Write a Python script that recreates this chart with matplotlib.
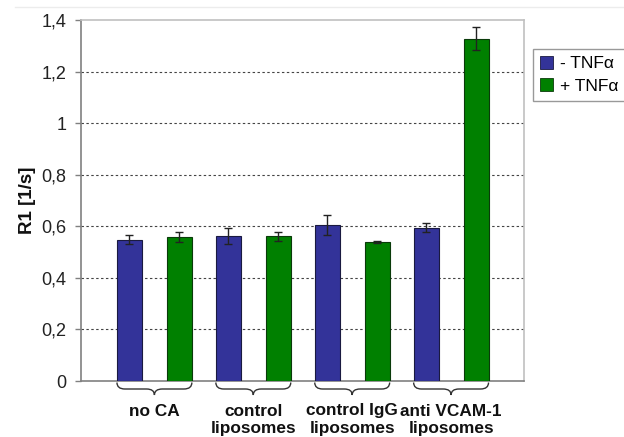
import matplotlib
matplotlib.use("Agg")
import matplotlib.pyplot as plt
from matplotlib.path import Path
from matplotlib.patches import PathPatch, Patch
from matplotlib.lines import Line2D
import numpy as np

categories = [("no CA", ""), ("control", "liposomes"), ("control IgG", "liposomes"), ("anti VCAM-1", "liposomes")]
series_names = ["- TNFα", "+ TNFα"]
minus_vals = [0.548, 0.564, 0.605, 0.594]
minus_err = [0.017, 0.031, 0.040, 0.017]
plus_vals = [0.559, 0.561, 0.539, 1.327]
plus_err = [0.019, 0.017, 0.003, 0.044]
yticks = [0, 0.2, 0.4, 0.6, 0.8, 1.0, 1.2, 1.4]
ytick_labels = ["0", "0,2", "0,4", "0,6", "0,8", "1", "1,2", "1,4"]

plt.rcParams['font.family'] = ['Liberation Sans', 'DejaVu Sans']

W, H = 624, 437
fig = plt.figure(figsize=(W / 100, H / 100), dpi=100)
ax = fig.add_axes([81 / W, 1 - 381 / H, (524 - 81) / W, (381 - 20) / H])

blue = "#333399"
green = "#008000"
x = np.arange(len(categories))
bw = 0.2525
off = 0.2525
ax.bar(x - off, minus_vals, bw, color=blue, edgecolor="#1a1a40", linewidth=0.8, zorder=3)
ax.bar(x + off, plus_vals, bw, color=green, edgecolor="#0a3a0a", linewidth=0.8, zorder=3)
ax.errorbar(x - off, minus_vals, yerr=minus_err, fmt="none", ecolor="#222222", elinewidth=1, capsize=3, capthick=1, zorder=4)
ax.errorbar(x + off, plus_vals, yerr=plus_err, fmt="none", ecolor="#222222", elinewidth=1, capsize=3, capthick=1, zorder=4)

ax.set_xlim(-73.5 / 99, 3 + 73 / 99)
ax.set_ylim(0, 1.4)
ax.set_yticks(yticks)
ax.set_yticklabels(ytick_labels, fontsize=13, color="#222222")
ax.tick_params(axis="y", length=4, width=1, color="#808080", pad=6.5, direction="out")
ax.set_xticks([])
for yv in yticks[1:-1]:
    ax.axhline(yv, color="#444444", linestyle=(0, (2.2, 2.2)), linewidth=0.8, zorder=1)

ax.spines["left"].set_color("#808080")
ax.spines["left"].set_linewidth(1.2)
ax.spines["bottom"].set_color("#808080")
ax.spines["bottom"].set_linewidth(1.2)
ax.spines["top"].set_color("#c0c0c0")
ax.spines["right"].set_color("#c0c0c0")
ax.spines["top"].set_linewidth(1.2)
ax.spines["right"].set_linewidth(1.2)

ax.set_ylabel("R1 [1/s]", fontsize=13.5, fontweight="bold", color="#111111")
ax.yaxis.label.set_verticalalignment("center")
ax.yaxis.set_label_coords((27 - 81) / 443, 0.5)

# braces
axh = 361.0
def yax(py):
    return (381 - py) / axh
tr = ax.get_xaxis_transform()
r = 0.08
for i in range(len(categories)):
    x0 = x[i] - off - bw / 2
    x1 = x[i] + off + bw / 2
    xc = x[i]
    yt, ym, yp = yax(382.5), yax(389), yax(395)
    verts = [(x0, yt), (x0, ym), (x0 + r, ym),
             (xc - r, ym), (xc, ym), (xc, yp),
             (xc, ym), (xc + r, ym),
             (x1 - r, ym), (x1, ym), (x1, yt)]
    codes = [Path.MOVETO, Path.CURVE3, Path.CURVE3,
             Path.LINETO, Path.CURVE3, Path.CURVE3,
             Path.CURVE3, Path.CURVE3,
             Path.LINETO, Path.CURVE3, Path.CURVE3]
    ax.add_patch(PathPatch(Path(verts, codes), transform=tr, fill=False,
                           edgecolor="#333333", linewidth=1.0, clip_on=False))
    l1, l2 = categories[i]
    ax.text(xc, yax(415.5), l1, transform=tr, ha="center", va="baseline",
            fontsize=12.4, fontweight="bold", color="#111111")
    if l2:
        ax.text(xc, yax(433), l2, transform=tr, ha="center", va="baseline",
                fontsize=12.4, fontweight="bold", color="#111111")

handles = [Patch(facecolor=blue, edgecolor="#1a1a40", linewidth=0.6),
           Patch(facecolor=green, edgecolor="#0a3a0a", linewidth=0.6)]
leg = fig.legend(handles, series_names, loc="upper left",
                 bbox_to_anchor=(533 / W, 1 - 49 / H), fontsize=12.5,
                 frameon=True, fancybox=False, shadow=False,
                 handlelength=0.75, handleheight=0.75, handletextpad=0.4,
                 borderpad=0.4, labelspacing=0.4, borderaxespad=0)
leg.get_frame().set_edgecolor("#808080")
leg.get_frame().set_linewidth(1.0)

fig.add_artist(Line2D([15 / W, 1], [1 - 7 / H, 1 - 7 / H], transform=fig.transFigure,
                      color="#ececec", linewidth=1))

fig.savefig("out.png", dpi=100)
